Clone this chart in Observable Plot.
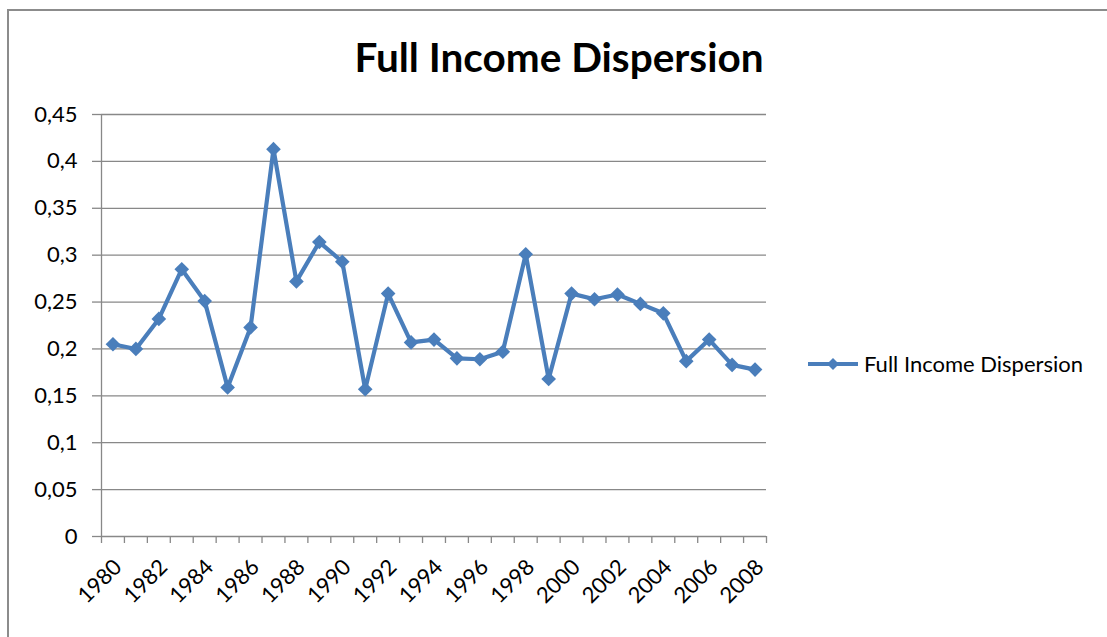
<!DOCTYPE html>
<html>
<head>
<meta charset="utf-8">
<script src="https://cdn.jsdelivr.net/npm/d3@7"></script>
<script src="https://cdn.jsdelivr.net/npm/@observablehq/plot@0.6"></script>
<style>
  html, body { margin: 0; padding: 0; background: #fff; }
  #chart { position: relative; width: 1107px; height: 637px; overflow: hidden; font-family: Lato, "Open Sans", sans-serif; color: #000; }
  #frame { position: absolute; left: 7px; top: 9px; right: -4px; bottom: -4px; border-left: 2px solid #8c8c8c; border-top: 2px solid #8c8c8c; }
  #title { position: absolute; left: 559px; top: 32px; transform: translateX(-50%); font-size: 40.5px; font-weight: 700; white-space: nowrap; }
  #plot { position: absolute; left: 0; top: 0; }
  #legend { position: absolute; left: 808px; top: 350px; display: flex; align-items: center; font-size: 22px; white-space: nowrap; }
  #legend svg { margin-right: 4px; }
</style>
</head>
<body>
<div id="chart">
  <div id="frame"></div>
  <div id="title">Full Income Dispersion</div>
  <div id="plot"></div>
  <div id="legend"></div>
</div>
<script>
// Annual full income dispersion, 1980–2008
const years = [1980, 1981, 1982, 1983, 1984, 1985, 1986, 1987, 1988, 1989,
               1990, 1991, 1992, 1993, 1994, 1995, 1996, 1997, 1998, 1999,
               2000, 2001, 2002, 2003, 2004, 2005, 2006, 2007, 2008];
const dispersion = [0.205, 0.200, 0.232, 0.285, 0.251, 0.159, 0.223, 0.413, 0.272, 0.314,
                    0.293, 0.157, 0.259, 0.207, 0.210, 0.190, 0.189, 0.197, 0.301, 0.168,
                    0.259, 0.253, 0.258, 0.248, 0.238, 0.187, 0.210, 0.183, 0.178];
const seriesName = "Full Income Dispersion";

// Axis ticks and their labels (decimal comma)
const yTicks = [0, 0.05, 0.1, 0.15, 0.2, 0.25, 0.3, 0.35, 0.4, 0.45];
const yTickLabels = ["0", "0,05", "0,1", "0,15", "0,2", "0,25", "0,3", "0,35", "0,4", "0,45"];
const yearLabels = [1980, 1982, 1984, 1986, 1988, 1990, 1992, 1994, 1996, 1998,
                    2000, 2002, 2004, 2006, 2008];

const lineColor = "#4A7EBB";
const axisColor = "#888";

const data = years.map((year, i) => ({year, value: dispersion[i]}));
// category slot boundaries for the x tick marks
const boundaries = [...years.map(y => y - 0.5), years[years.length - 1] + 0.5];

const chart = Plot.plot({
  width: 800,
  height: 637,
  marginLeft: 101,
  marginRight: 34,
  marginTop: 114,
  marginBottom: 101,
  style: {fontFamily: "Lato, 'Open Sans', sans-serif", fontSize: "22px", color: "#000", background: "transparent"},
  x: {type: "linear", domain: [boundaries[0], boundaries[boundaries.length - 1]]},
  y: {domain: [0, 0.45]},
  marks: [
    Plot.ruleY(yTicks, {stroke: axisColor, strokeWidth: 1.3, strokeOpacity: 1}),
    Plot.ruleX([boundaries[0]], {stroke: axisColor, strokeWidth: 1.3}),
    Plot.axisY({
      ticks: yTicks,
      tickSize: 9,
      tickPadding: 15,
      stroke: axisColor,
      strokeWidth: 1.3,
      strokeOpacity: 1,
      fill: "#000",
      tickFormat: d => yTickLabels[yTicks.indexOf(d)],
      label: null
    }),
    Plot.axisX({
      ticks: boundaries,
      tickSize: 7,
      stroke: axisColor,
      strokeWidth: 1.3,
      strokeOpacity: 1,
      tickFormat: () => "",
      label: null
    }),
    Plot.axisX({
      ticks: yearLabels,
      tickSize: 0,
      tickPadding: 27,
      tickRotate: -45,
      dx: 5,
      fill: "#000",
      tickFormat: d => String(d),
      label: null
    }),
    Plot.line(data, {x: "year", y: "value", stroke: lineColor, strokeWidth: 4.2, strokeLinejoin: "round"}),
    Plot.dot(data, {x: "year", y: "value", symbol: "diamond2", r: 6.6, fill: lineColor, stroke: "none"})
  ]
});
document.getElementById("plot").append(chart);

// Legend to the right of the plot
const legend = document.getElementById("legend");
legend.innerHTML = `<svg width="52" height="24" viewBox="0 0 52 24">
  <line x1="0" y1="12" x2="50" y2="12" stroke="${lineColor}" stroke-width="4"/>
  <path d="M25,6 L31,12 L25,18 L19,12 Z" fill="${lineColor}"/>
</svg><span></span>`;
legend.querySelector("span").textContent = seriesName;
</script>
</body>
</html>
